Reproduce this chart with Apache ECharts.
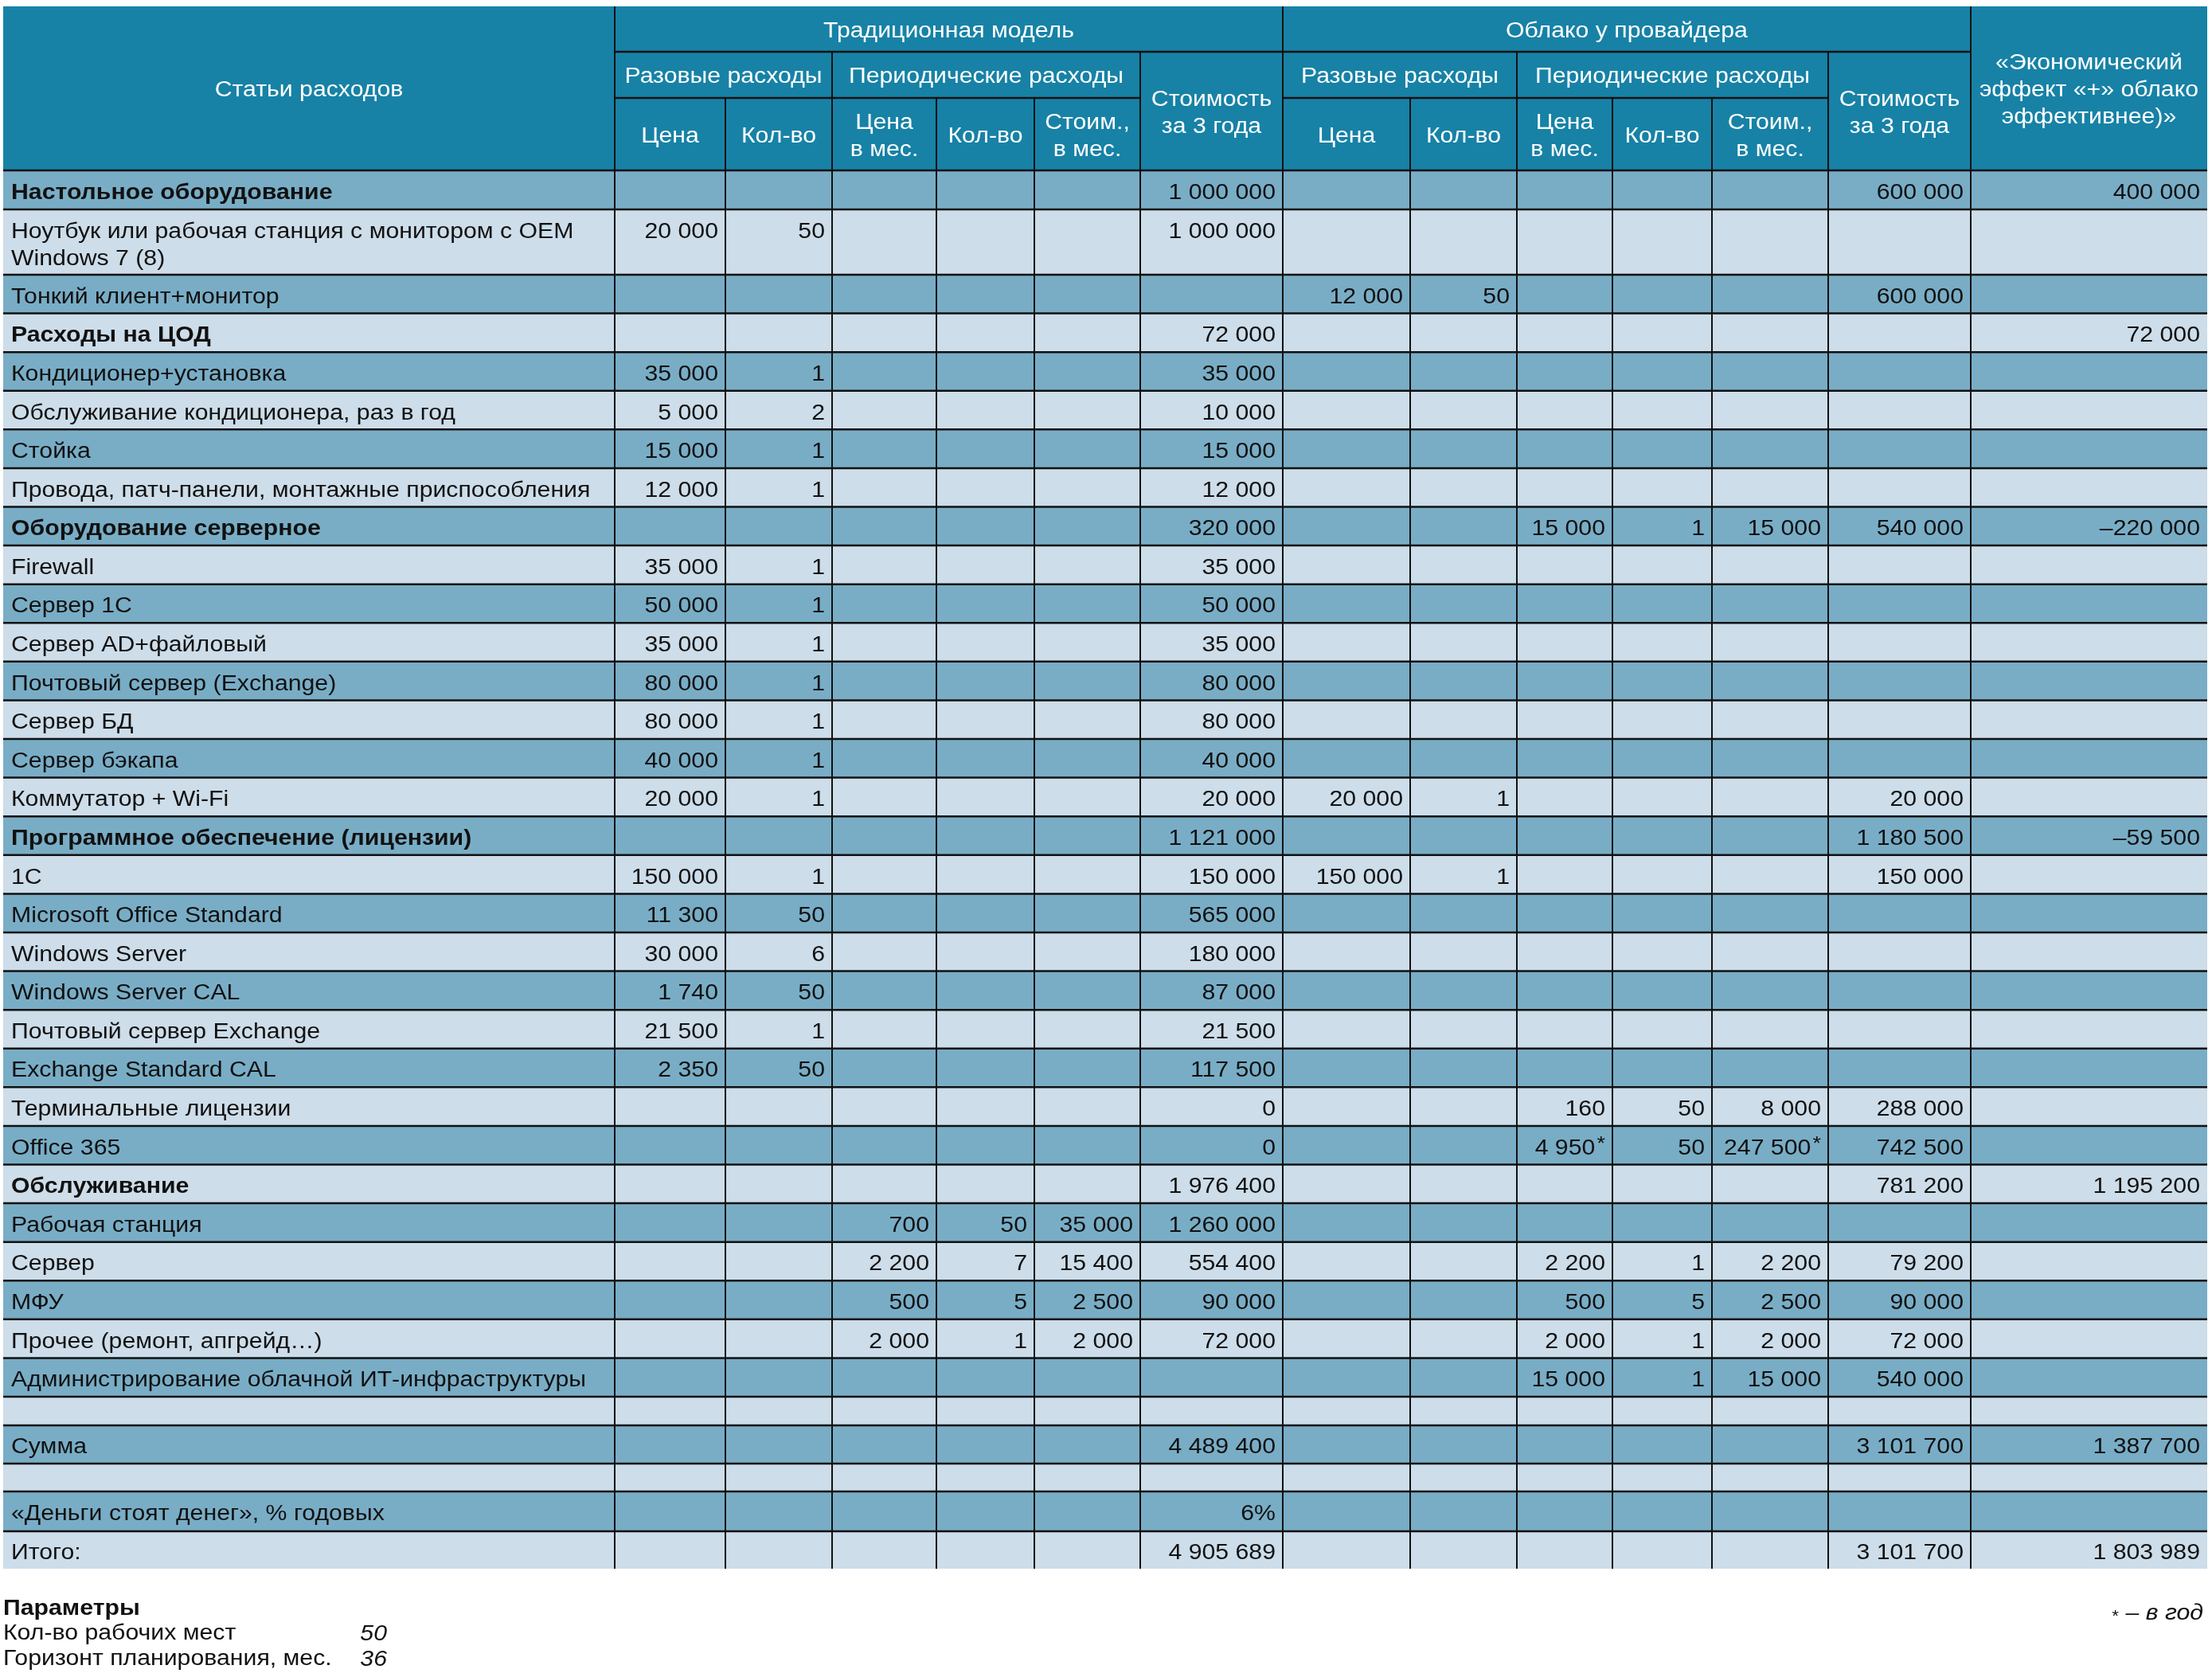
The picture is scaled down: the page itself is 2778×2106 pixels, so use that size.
<!DOCTYPE html>
<html>
<head>
<meta charset="utf-8">
<script src="https://cdn.jsdelivr.net/npm/echarts@6/dist/echarts.min.js"></script>
<style>
  html, body { margin: 0; padding: 0; background: #fff; }
  #chart { width: 2778px; height: 2106px; }
</style>
</head>
<body>
<div id="chart"></div>
<script>
var _ = null;

// строки таблицы
var rowLabels = [
  'Настольное оборудование',
  'Ноутбук или рабочая станция с монитором с OEM\nWindows 7 (8)',
  'Тонкий клиент+монитор',
  'Расходы на ЦОД',
  'Кондиционер+установка',
  'Обслуживание кондиционера, раз в год',
  'Стойка',
  'Провода, патч-панели, монтажные приспособления',
  'Оборудование серверное',
  'Firewall',
  'Сервер 1С',
  'Сервер AD+файловый',
  'Почтовый сервер (Exchange)',
  'Сервер БД',
  'Сервер бэкапа',
  'Коммутатор + Wi-Fi',
  'Программное обеспечение (лицензии)',
  '1С',
  'Microsoft Office Standard',
  'Windows Server',
  'Windows Server CAL',
  'Почтовый сервер Exchange',
  'Exchange Standard CAL',
  'Терминальные лицензии',
  'Office 365',
  'Обслуживание',
  'Рабочая станция',
  'Сервер',
  'МФУ',
  'Прочее (ремонт, апгрейд…)',
  'Администрирование облачной ИТ-инфраструктуры',
  '',
  'Сумма',
  '',
  '«Деньги стоят денег», % годовых',
  'Итого:'
];
// разделы (жирным)
var sectionRows = [0, 3, 8, 16, 25];
// строка с процентами
var percentRows = [34];

// Традиционная модель
var tradPrice = [
  _, 20000, _, _, 35000, 5000,
  15000, 12000, _, 35000, 50000, 35000,
  80000, 80000, 40000, 20000, _, 150000,
  11300, 30000, 1740, 21500, 2350, _,
  _, _, _, _, _, _,
  _, _, _, _, _, _
];
var tradQty = [
  _, 50, _, _, 1, 2,
  1, 1, _, 1, 1, 1,
  1, 1, 1, 1, _, 1,
  50, 6, 50, 1, 50, _,
  _, _, _, _, _, _,
  _, _, _, _, _, _
];
var tradMonthPrice = [
  _, _, _, _, _, _,
  _, _, _, _, _, _,
  _, _, _, _, _, _,
  _, _, _, _, _, _,
  _, _, 700, 2200, 500, 2000,
  _, _, _, _, _, _
];
var tradMonthQty = [
  _, _, _, _, _, _,
  _, _, _, _, _, _,
  _, _, _, _, _, _,
  _, _, _, _, _, _,
  _, _, 50, 7, 5, 1,
  _, _, _, _, _, _
];
var tradMonthCost = [
  _, _, _, _, _, _,
  _, _, _, _, _, _,
  _, _, _, _, _, _,
  _, _, _, _, _, _,
  _, _, 35000, 15400, 2500, 2000,
  _, _, _, _, _, _
];
var trad3y = [
  1000000, 1000000, _, 72000, 35000, 10000,
  15000, 12000, 320000, 35000, 50000, 35000,
  80000, 80000, 40000, 20000, 1121000, 150000,
  565000, 180000, 87000, 21500, 117500, 0,
  0, 1976400, 1260000, 554400, 90000, 72000,
  _, _, 4489400, _, 0.06, 4905689
];

// Облако у провайдера
var cloudPrice = [
  _, _, 12000, _, _, _,
  _, _, _, _, _, _,
  _, _, _, 20000, _, 150000,
  _, _, _, _, _, _,
  _, _, _, _, _, _,
  _, _, _, _, _, _
];
var cloudQty = [
  _, _, 50, _, _, _,
  _, _, _, _, _, _,
  _, _, _, 1, _, 1,
  _, _, _, _, _, _,
  _, _, _, _, _, _,
  _, _, _, _, _, _
];
var cloudMonthPrice = [
  _, _, _, _, _, _,
  _, _, 15000, _, _, _,
  _, _, _, _, _, _,
  _, _, _, _, _, 160,
  4950, _, _, 2200, 500, 2000,
  15000, _, _, _, _, _
];
var cloudMonthQty = [
  _, _, _, _, _, _,
  _, _, 1, _, _, _,
  _, _, _, _, _, _,
  _, _, _, _, _, 50,
  50, _, _, 1, 5, 1,
  1, _, _, _, _, _
];
var cloudMonthCost = [
  _, _, _, _, _, _,
  _, _, 15000, _, _, _,
  _, _, _, _, _, _,
  _, _, _, _, _, 8000,
  247500, _, _, 2200, 2500, 2000,
  15000, _, _, _, _, _
];
var cloud3y = [
  600000, _, 600000, _, _, _,
  _, _, 540000, _, _, _,
  _, _, _, 20000, 1180500, 150000,
  _, _, _, _, _, 288000,
  742500, 781200, _, 79200, 90000, 72000,
  540000, _, 3101700, _, _, 3101700
];
// Экономический эффект
var effect = [
  400000, _, _, 72000, _, _,
  _, _, -220000, _, _, _,
  _, _, _, _, -59500, _,
  _, _, _, _, _, _,
  _, 1195200, _, _, _, _,
  _, _, 1387700, _, _, 1803989
];

var valueColumns = [tradPrice, tradQty, tradMonthPrice, tradMonthQty, tradMonthCost, trad3y,
  cloudPrice, cloudQty, cloudMonthPrice, cloudMonthQty, cloudMonthCost, cloud3y, effect];

// значения «в год»: [строка, массив]
var yearlyCells = [[24, cloudMonthPrice], [24, cloudMonthCost]];

// параметры под таблицей
var paramLabels = ['Кол-во рабочих мест', 'Горизонт планирования, мес.'];
var paramValues = [50, 36];

// шапка: [столбец от, до, строка от, до, текст]
var headerCells = [
  [0, 1, 0, 3, 'Статьи расходов'],
  [1, 7, 0, 1, 'Традиционная модель'],
  [7, 13, 0, 1, 'Облако у провайдера'],
  [13, 14, 0, 3, '«Экономический\nэффект «+» облако\nэффективнее)»'],
  [1, 3, 1, 2, 'Разовые расходы'],
  [3, 6, 1, 2, 'Периодические расходы'],
  [6, 7, 1, 3, 'Стоимость\nза 3 года'],
  [7, 9, 1, 2, 'Разовые расходы'],
  [9, 12, 1, 2, 'Периодические расходы'],
  [12, 13, 1, 3, 'Стоимость\nза 3 года'],
  [1, 2, 2, 3, 'Цена'],
  [2, 3, 2, 3, 'Кол-во'],
  [3, 4, 2, 3, 'Цена\nв мес.'],
  [4, 5, 2, 3, 'Кол-во'],
  [5, 6, 2, 3, 'Стоим.,\nв мес.'],
  [7, 8, 2, 3, 'Цена'],
  [8, 9, 2, 3, 'Кол-во'],
  [9, 10, 2, 3, 'Цена\nв мес.'],
  [10, 11, 2, 3, 'Кол-во'],
  [11, 12, 2, 3, 'Стоим.,\nв мес.']
];

// раскладка сетки (в единицах осей)
var colEdges = [0, 768, 907, 1041, 1172, 1295, 1428, 1607, 1767, 1901, 2021, 2146, 2292, 2471, 2768];
var rowEdges = [0, 57, 115, 206, 255, 337];
for (var k = 1; k <= 29; k++) rowEdges.push(337 + k * 1409 / 29);
rowEdges.push(1782, 1830, 1865, 1915, 1962);

var HEADER = '#1782a6';
var MID = '#79adc6';
var LIGHT = '#cddde9';
var LINE = '#111';
var FONT = '"Liberation Sans", Arial, Helvetica, sans-serif';
var SX = 1.12;
var DY = 3;

function fmt(v, row) {
  if (v === null || v === undefined) return '';
  if (percentRows.indexOf(row) >= 0) return Math.round(v * 100) + '%';
  var s = String(Math.abs(v)).replace(/\B(?=(\d{3})+(?!\d))/g, '\u00a0');
  return (v < 0 ? '\u2013' : '') + s;
}
function isYearly(row, arr) {
  return yearlyCells.some(function (p) { return p[0] === row && p[1] === arr; });
}

var cells = [];
headerCells.forEach(function (h) {
  cells.push({ c0: h[0], c1: h[1], r0: h[2], r1: h[3], fill: HEADER, text: h[4], kind: 'head' });
});
rowLabels.forEach(function (label, i) {
  var fill = i % 2 === 0 ? MID : LIGHT;
  var bold = sectionRows.indexOf(i) >= 0;
  cells.push({ c0: 0, c1: 1, r0: i + 3, r1: i + 4, fill: fill, text: label, kind: 'label', bold: bold, row: i });
  valueColumns.forEach(function (col, j) {
    var txt = fmt(col[i], i);
    if (txt && isYearly(i, col)) txt = txt + '{sup|*}';
    cells.push({ c0: j + 1, c1: j + 2, r0: i + 3, r1: i + 4, fill: fill, text: txt, kind: 'num', row: i });
  });
});

var lastCol = colEdges.length - 1;
var lastRow = rowEdges.length - 1;

function renderItem(params, api) {
  var cell = cells[params.dataIndex];
  var p0 = api.coord([colEdges[cell.c0], rowEdges[cell.r0]]);
  var p1 = api.coord([colEdges[cell.c1], rowEdges[cell.r1]]);
  var w = p1[0] - p0[0], h = p1[1] - p0[1];
  var children = [{
    type: 'rect',
    shape: { x: p0[0], y: p0[1], width: w, height: h },
    style: { fill: cell.fill }
  }];
  if (cell.c1 < lastCol) {
    children.push({ type: 'line', z2: 20, shape: { x1: p1[0], y1: p0[1], x2: p1[0], y2: p1[1] },
      style: { stroke: LINE, lineWidth: 2 } });
  }
  if (cell.r1 < lastRow) {
    children.push({ type: 'line', z2: 20, shape: { x1: p0[0], y1: p1[1], x2: p1[0], y2: p1[1] },
      style: { stroke: LINE, lineWidth: 2.5 } });
  }
  if (cell.text) {
    var tall = h > 60 && cell.kind !== 'head';
    var ty = tall ? p0[1] + 26 + DY : p0[1] + h / 2 + 1 + DY;
    var st = {
      text: cell.text, fontSize: 27, fontFamily: FONT, lineHeight: 34,
      fill: cell.kind === 'head' ? '#fff' : '#111',
      fontWeight: cell.bold ? 'bold' : 'normal',
      verticalAlign: 'middle',
      rich: { sup: { fontSize: 24, fontFamily: FONT, fill: '#111', verticalAlign: 'top', lineHeight: 24, padding: [0, 0, 14, 2] } }
    };
    var tx;
    if (cell.kind === 'head') {
      tx = p0[0] + w / 2; st.align = 'center'; ty = p0[1] + h / 2 + DY;
    } else if (cell.kind === 'label') {
      tx = p0[0] + 10; st.align = 'left';
      if (tall) { st.verticalAlign = 'top'; ty = p0[1] + 9 + DY; }
    } else {
      tx = p1[0] - 9; st.align = 'right';
    }
    children.push({ type: 'text', z2: 10, x: tx, y: ty, scaleX: SX, style: st });
  }
  return { type: 'group', children: children };
}

var chart = echarts.init(document.getElementById('chart'));
var option = {
  backgroundColor: '#fff',
  animation: false,
  grid: { left: 4, top: 8, width: 2768, height: 1962 },
  xAxis: { type: 'value', min: 0, max: 2768, show: false },
  yAxis: { type: 'value', min: 0, max: 1962, inverse: true, show: false },
  graphic: [
    { type: 'text', x: 4, y: 2021, scaleX: SX,
      style: { text: 'Параметры', fontSize: 27, fontWeight: 'bold', fontFamily: FONT, fill: '#111', verticalAlign: 'middle' } },
    { type: 'text', x: 4, y: 2052, scaleX: SX,
      style: { text: paramLabels[0], fontSize: 27, fontFamily: FONT, fill: '#111', verticalAlign: 'middle' } },
    { type: 'text', x: 4, y: 2084, scaleX: SX,
      style: { text: paramLabels[1], fontSize: 27, fontFamily: FONT, fill: '#111', verticalAlign: 'middle' } },
    { type: 'text', x: 486, y: 2052, scaleX: SX,
      style: { text: String(paramValues[0]), fontSize: 27, fontStyle: 'italic', fontFamily: FONT, fill: '#111', align: 'right', verticalAlign: 'middle' } },
    { type: 'text', x: 486, y: 2084, scaleX: SX,
      style: { text: String(paramValues[1]), fontSize: 27, fontStyle: 'italic', fontFamily: FONT, fill: '#111', align: 'right', verticalAlign: 'middle' } },
    { type: 'text', x: 2767, y: 2026, scaleX: SX,
      style: { text: '{s|*} \u2013 в год', fontSize: 27, fontStyle: 'italic', fontFamily: FONT, fill: '#111', align: 'right', verticalAlign: 'middle',
        rich: { s: { fontSize: 20, fontFamily: FONT, fill: '#111', padding: [8, 0, 0, 0] } } } }
  ],
  series: [{
    type: 'custom',
    renderItem: renderItem,
    clip: false,
    silent: true,
    encode: { x: 0, y: 1 },
    data: cells.map(function (c) {
      return [(colEdges[c.c0] + colEdges[c.c1]) / 2, (rowEdges[c.r0] + rowEdges[c.r1]) / 2];
    })
  }]
};
chart.setOption(option);
</script>
</body>
</html>
